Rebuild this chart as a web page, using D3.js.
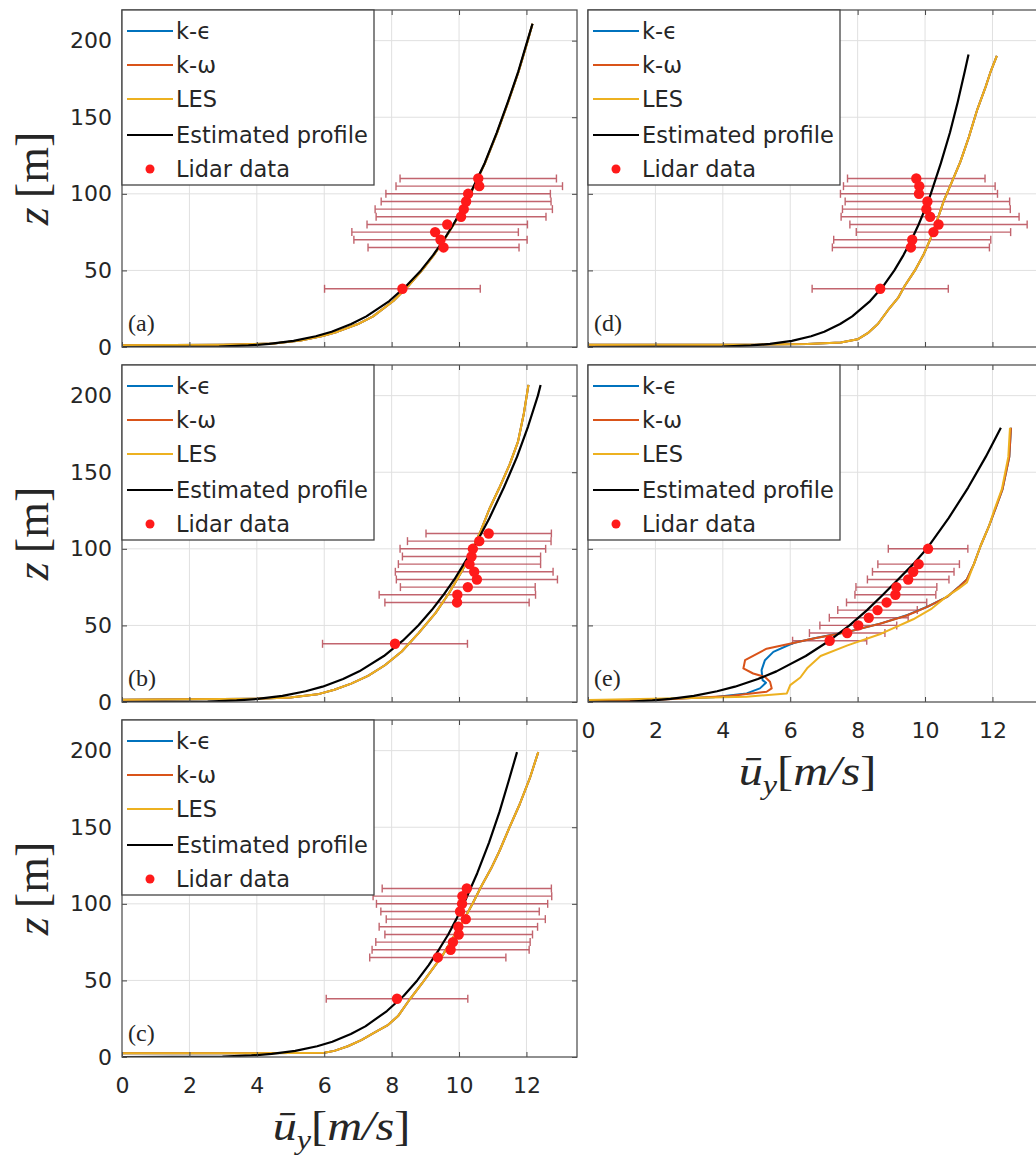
<!DOCTYPE html>
<html><head><meta charset="utf-8">
<script src="https://cdn.jsdelivr.net/npm/d3@7/dist/d3.min.js"></script>
<style>body{margin:0;background:#fff}svg{display:block}</style>
</head><body>
<svg id="chart" width="1036" height="1156"></svg>
<script>
// ---------- data ----------
const seriesNames = ["k-\u03F5", "k-\u03C9", "LES", "Estimated profile", "Lidar data"];
const xTicks = [0, 2, 4, 6, 8, 10, 12];
const yTicks = [0, 50, 100, 150, 200];
const panelLabels = ["(a)", "(b)", "(c)", "(d)", "(e)"];

// lidar heights [m]
const lidarZ = [38, 65, 70, 75, 80, 85, 90, 95, 100, 105, 110];
const lidarZe = [40, 45, 50, 55, 60, 65, 70, 75, 80, 85, 90, 100];

// lidar mean speed and error half-width [m/s]
const lidarUa = [8.32, 9.54, 9.45, 9.29, 9.65, 10.06, 10.14, 10.21, 10.27, 10.6, 10.57];
const lidarEa = [2.31, 2.24, 2.57, 2.47, 2.38, 2.52, 2.63, 2.52, 2.44, 2.47, 2.32];
const lidarUb = [8.1, 9.94, 9.95, 10.26, 10.53, 10.45, 10.31, 10.37, 10.41, 10.6, 10.88];
const lidarEb = [2.15, 2.14, 2.32, 2.0, 2.39, 2.34, 2.11, 2.05, 2.16, 2.13, 1.86];
const lidarUc = [8.16, 9.37, 9.75, 9.82, 9.99, 9.98, 10.2, 10.03, 10.09, 10.1, 10.23];
const lidarEc = [2.1, 2.02, 2.33, 2.29, 2.19, 2.35, 2.36, 2.35, 2.54, 2.65, 2.51];
const lidarUd = [8.67, 9.58, 9.62, 10.25, 10.4, 10.15, 10.04, 10.07, 9.82, 9.83, 9.74];
const lidarEd = [2.02, 2.33, 2.33, 2.29, 2.63, 2.64, 2.49, 2.44, 2.33, 2.25, 2.04];
const lidarUe = [7.17, 7.69, 8.02, 8.33, 8.59, 8.86, 9.12, 9.15, 9.5, 9.65, 9.81, 10.09];
const lidarEe = [1.1, 1.12, 1.14, 1.17, 1.18, 1.19, 1.2, 1.2, 1.21, 1.21, 1.21, 1.18];

// profiles: [u, z]
const estA = [[0,0],[2.88,0.3],[3.75,1],[4.37,2],[5.09,4],[5.75,7],[6.22,10],[6.8,15],[7.25,20],[7.93,30],[8.44,40],[8.87,50],[9.23,60],[9.55,70],[9.83,80],[10.09,90],[10.33,100],[10.76,120],[11.12,140],[11.45,160],[11.76,180],[12.03,200],[12.18,211]];
const lesA = [[0,1.2],[3,1.5],[4.5,2.3],[5.3,4.2],[5.95,7.2],[6.4,10],[7.0,15],[7.45,20],[8.05,30],[8.5,40],[8.9,50],[9.25,60],[9.56,70],[9.84,80],[10.1,90],[10.34,100],[10.77,120],[11.13,140],[11.46,160],[11.77,180],[12.04,200],[12.18,211]];
const kepsA = lesA;
const komgA = lesA;

const estB = [[0,0],[2.54,0.3],[3.4,1],[4.02,2],[4.76,4],[5.45,7],[5.95,10],[6.56,15],[7.04,20],[7.77,30],[8.33,40],[8.79,50],[9.19,60],[9.54,70],[9.86,80],[10.14,90],[10.42,100],[10.9,120],[11.33,140],[11.72,160],[12.05,180],[12.34,200],[12.42,207]];
const lesB = [[0,1.5],[2,1.8],[4,2.2],[5,3],[5.8,5],[6.3,8],[6.8,12],[7.3,17],[7.8,24],[8.3,33],[8.8,45],[9.3,58],[9.7,71],[10.1,86],[10.4,100],[10.65,112],[10.9,126],[11.2,140],[11.5,155],[11.75,170],[11.92,188],[12.06,207]];
const kepsB = lesB;
const komgB = lesB;

const estC = [[0,0],[2.98,0.3],[3.84,1],[4.44,2],[5.14,4],[5.79,7],[6.24,10],[6.79,15],[7.22,20],[7.86,30],[8.36,40],[8.76,50],[9.1,60],[9.4,70],[9.68,80],[9.92,90],[10.14,100],[10.54,120],[10.89,140],[11.2,160],[11.47,180],[11.72,199]];
const lesC = [[0,2.5],[4,2.5],[6,2.8],[6.3,4],[6.7,7],[7.1,11],[7.5,16],[7.9,21],[8.2,27],[8.55,38],[8.9,48],[9.2,57],[9.5,66],[9.8,77],[10.1,88],[10.4,100],[10.65,111],[10.95,123],[11.19,134],[11.5,150],[11.8,165],[12.1,182],[12.35,199]];
const kepsC = lesC;
const komgC = lesC;

const estD = [[0,0],[3.98,0.3],[4.83,1],[5.4,2],[6.05,4],[6.62,7],[7.01,10],[7.48,15],[7.84,20],[8.37,30],[8.77,40],[9.09,50],[9.36,60],[9.6,70],[9.81,80],[10.0,90],[10.17,100],[10.47,120],[10.74,140],[10.97,160],[11.18,180],[11.29,191]];
const lesD = [[0,1.5],[5,1.5],[6.5,2],[7.5,3],[8.0,5],[8.3,9],[8.6,15],[8.9,24],[9.2,32],[9.4,40],[9.7,50],[9.95,60],[10.15,70],[10.35,82],[10.55,95],[10.8,108],[11.05,121],[11.3,137],[11.55,155],[11.8,170],[11.95,180],[12.13,190]];
const kepsD = lesD;
const komgD = lesD;

const estE = [[0,0],[1.24,0.3],[1.91,1],[2.45,2],[3.14,4],[3.83,7],[4.36,10],[5.04,15],[5.59,20],[6.46,30],[7.16,40],[7.76,50],[8.28,60],[8.75,70],[9.2,80],[9.65,90],[10.05,100],[10.7,120],[11.28,140],[11.8,160],[12.25,179]];
const lesE = [[0,1.3],[2.7,2.4],[4.7,3.4],[5.9,5.6],[6.0,11],[6.3,16],[6.5,22],[6.9,30],[7.7,37],[8.7,44.6],[9.65,54],[10.2,61],[10.65,69],[11.0,74],[11.24,78],[11.45,90],[11.65,102],[11.9,115],[12.05,125],[12.28,139],[12.47,160],[12.52,179]];
const komgE = [[0,0.5],[2.23,1.7],[4.21,3.9],[5.3,6.7],[5.45,8.9],[5.4,13.2],[5.25,16.4],[4.9,18.6],[4.61,21.9],[4.66,27.3],[5.3,34.8],[6.09,38.5],[6.69,41.4],[7.68,45.6],[8.66,51.1],[9.46,56.5],[10.05,61.9],[10.64,68.4],[11.0,75],[11.24,80],[11.45,90],[11.65,102],[11.9,115],[12.07,125],[12.3,139],[12.5,160],[12.55,179]];
const kepsE = [[0,0.5],[1.74,1.7],[3.72,3.1],[4.71,5.6],[5.1,8.9],[5.28,12.6],[5.18,14.3],[5.15,20.8],[5.25,27.3],[5.5,32.7],[6.09,38.5],[6.75,41.8],[7.75,46],[8.72,51.5],[9.5,57],[10.1,62.5],[10.68,69],[11.02,75.5],[11.24,80],[11.45,90],[11.65,102],[11.9,115],[12.07,125],[12.3,139],[12.5,160],[12.55,179]];

// ---------- layout / style ----------
const colors = ["#0072BD", "#D95319", "#EDB120", "#000000", "#ff1a1a"];
const errColor = "#b84a55";
const W = 455, H = 337;
const panels = [
  {x0:122, y0:10,  keps:kepsA, komg:komgA, les:lesA, est:estA, lz:lidarZ,  lu:lidarUa, le:lidarEa, yl:true,  xl:false},
  {x0:122, y0:365, keps:kepsB, komg:komgB, les:lesB, est:estB, lz:lidarZ,  lu:lidarUb, le:lidarEb, yl:true,  xl:false},
  {x0:122, y0:720, keps:kepsC, komg:komgC, les:lesC, est:estC, lz:lidarZ,  lu:lidarUc, le:lidarEc, yl:true,  xl:true},
  {x0:588, y0:10,  keps:kepsD, komg:komgD, les:lesD, est:estD, lz:lidarZ,  lu:lidarUd, le:lidarEd, yl:false, xl:false},
  {x0:588, y0:365, keps:kepsE, komg:komgE, les:lesE, est:estE, lz:lidarZe, lu:lidarUe, le:lidarEe, yl:false, xl:true}
];
const sans = "'DejaVu Sans', Verdana, sans-serif";
const serif = "'Liberation Serif', 'Times New Roman', serif";

const svg = d3.select("#chart");
svg.append("rect").attr("width",1036).attr("height",1156).attr("fill","#fff");

panels.forEach((p, i) => {
  const x = d3.scaleLinear().domain([0, 13.5]).range([0, W]);
  const y = d3.scaleLinear().domain([0, 220]).range([H, 0]);
  const g = svg.append("g").attr("transform", `translate(${p.x0},${p.y0})`);
  g.append("rect").attr("width", W).attr("height", H).attr("fill", "#fff");

  // grid
  g.append("g").selectAll("line").data(xTicks.slice(1)).join("line")
    .attr("x1", d => x(d)).attr("x2", d => x(d)).attr("y1", 0).attr("y2", H)
    .attr("stroke", "#e0e0e0").attr("stroke-width", 1);
  g.append("g").selectAll("line").data(yTicks.slice(1)).join("line")
    .attr("y1", d => y(d)).attr("y2", d => y(d)).attr("x1", 0).attr("x2", W)
    .attr("stroke", "#e0e0e0").attr("stroke-width", 1);

  const cid = "clip" + i;
  g.append("clipPath").attr("id", cid).append("rect").attr("width", W).attr("height", H);
  const inner = g.append("g").attr("clip-path", `url(#${cid})`);

  // error bars
  const lid = p.lz.map((z, k) => ({z, u: p.lu[k], e: p.le[k]}));
  const eb = inner.append("g").attr("stroke", errColor).attr("stroke-width", 1.4).attr("opacity", 0.85);
  eb.selectAll("line.h").data(lid).join("line").attr("class","h")
    .attr("x1", d => x(d.u - d.e)).attr("x2", d => x(d.u + d.e))
    .attr("y1", d => y(d.z)).attr("y2", d => y(d.z));
  eb.selectAll("line.l").data(lid).join("line").attr("class","l")
    .attr("x1", d => x(d.u - d.e)).attr("x2", d => x(d.u - d.e))
    .attr("y1", d => y(d.z) - 4).attr("y2", d => y(d.z) + 4);
  eb.selectAll("line.r").data(lid).join("line").attr("class","r")
    .attr("x1", d => x(d.u + d.e)).attr("x2", d => x(d.u + d.e))
    .attr("y1", d => y(d.z) - 4).attr("y2", d => y(d.z) + 4);

  // profiles
  const line = d3.line().x(d => x(d[0])).y(d => y(d[1]));
  [[p.keps,0],[p.komg,1],[p.les,2],[p.est,3]].forEach(([data, c]) => {
    inner.append("path").datum(data).attr("d", line).attr("fill", "none")
      .attr("stroke", colors[c]).attr("stroke-width", c === 3 ? 2.2 : 2)
      .attr("stroke-linejoin", "round");
  });

  // lidar points
  inner.append("g").selectAll("circle").data(lid).join("circle")
    .attr("cx", d => x(d.u)).attr("cy", d => y(d.z)).attr("r", 5.2)
    .attr("fill", colors[4]);

  // axes (ticks inward, box on)
  const axStyle = sel => {
    sel.select(".domain").remove();
    sel.selectAll(".tick line").attr("stroke", "#444");
    sel.selectAll(".tick text").attr("fill", "#262626")
      .style("font-family", sans).style("font-size", "22px");
  };
  g.append("g").call(d3.axisLeft(y).tickValues(yTicks).tickSize(-5).tickPadding(10)
      .tickFormat(p.yl ? d3.format("d") : () => "")).call(axStyle);
  g.append("g").attr("transform", `translate(${W},0)`)
    .call(d3.axisRight(y).tickValues(yTicks).tickSize(-5).tickFormat(() => "")).call(axStyle);
  g.append("g").attr("transform", `translate(0,${H})`)
    .call(d3.axisBottom(x).tickValues(xTicks).tickSize(-5).tickPadding(20)
      .tickFormat(p.xl ? d3.format("d") : () => "")).call(axStyle);
  g.append("g").call(d3.axisTop(x).tickValues(xTicks).tickSize(-5).tickFormat(() => "")).call(axStyle);

  g.append("rect").attr("width", W).attr("height", H).attr("fill", "none")
    .attr("stroke", "#555").attr("stroke-width", 1.3);

  // panel letter
  g.append("text").attr("x", 6).attr("y", H - 16).text(panelLabels[i])
    .style("font-family", serif).style("font-size", "24px").attr("fill", "#262626");

  // legend
  const lg = g.append("g");
  lg.append("rect").attr("x", 0).attr("y", 0).attr("width", 252).attr("height", 175)
    .attr("fill", "#fff").attr("stroke", "#444").attr("stroke-width", 1.3);
  const rows = [21, 55, 89, 125, 159];
  seriesNames.forEach((name, k) => {
    if (k < 4) {
      lg.append("line").attr("x1", 5).attr("x2", 51).attr("y1", rows[k]).attr("y2", rows[k])
        .attr("stroke", colors[k]).attr("stroke-width", 2);
    } else {
      lg.append("circle").attr("cx", 28).attr("cy", rows[k]).attr("r", 4.5).attr("fill", colors[4]);
    }
    lg.append("text").attr("x", 54).attr("y", rows[k]).attr("dy", "0.36em").text(name)
      .style("font-family", sans).style("font-size", "22.5px").attr("fill", "#262626");
  });

  // y label
  if (p.yl) {
    const t = svg.append("text")
      .attr("transform", `translate(48,${p.y0 + H / 2}) rotate(-90)`)
      .attr("text-anchor", "middle").style("font-family", serif).style("font-size", "46px")
      .attr("fill", "#262626");
    t.append("tspan").style("font-style", "italic").text("z");
    t.append("tspan").text("\u2009[m]");
  }
  // x label
  if (p.xl) {
    const t = svg.append("text")
      .attr("transform", `translate(${p.x0 + W / 2 - 8},${p.y0 + H + 83}) scale(1.15,1)`)
      .attr("text-anchor", "middle").style("font-family", serif).style("font-size", "42px")
      .attr("fill", "#262626");
    t.append("tspan").style("font-style", "italic").text("\u016B");
    t.append("tspan").style("font-style", "italic").style("font-size", "28px").attr("dy", 9).text("y");
    t.append("tspan").attr("dy", -9).text("[");
    t.append("tspan").style("font-style", "italic").text("m/s");
    t.append("tspan").text("]");
  }
});
</script>
</body></html>
